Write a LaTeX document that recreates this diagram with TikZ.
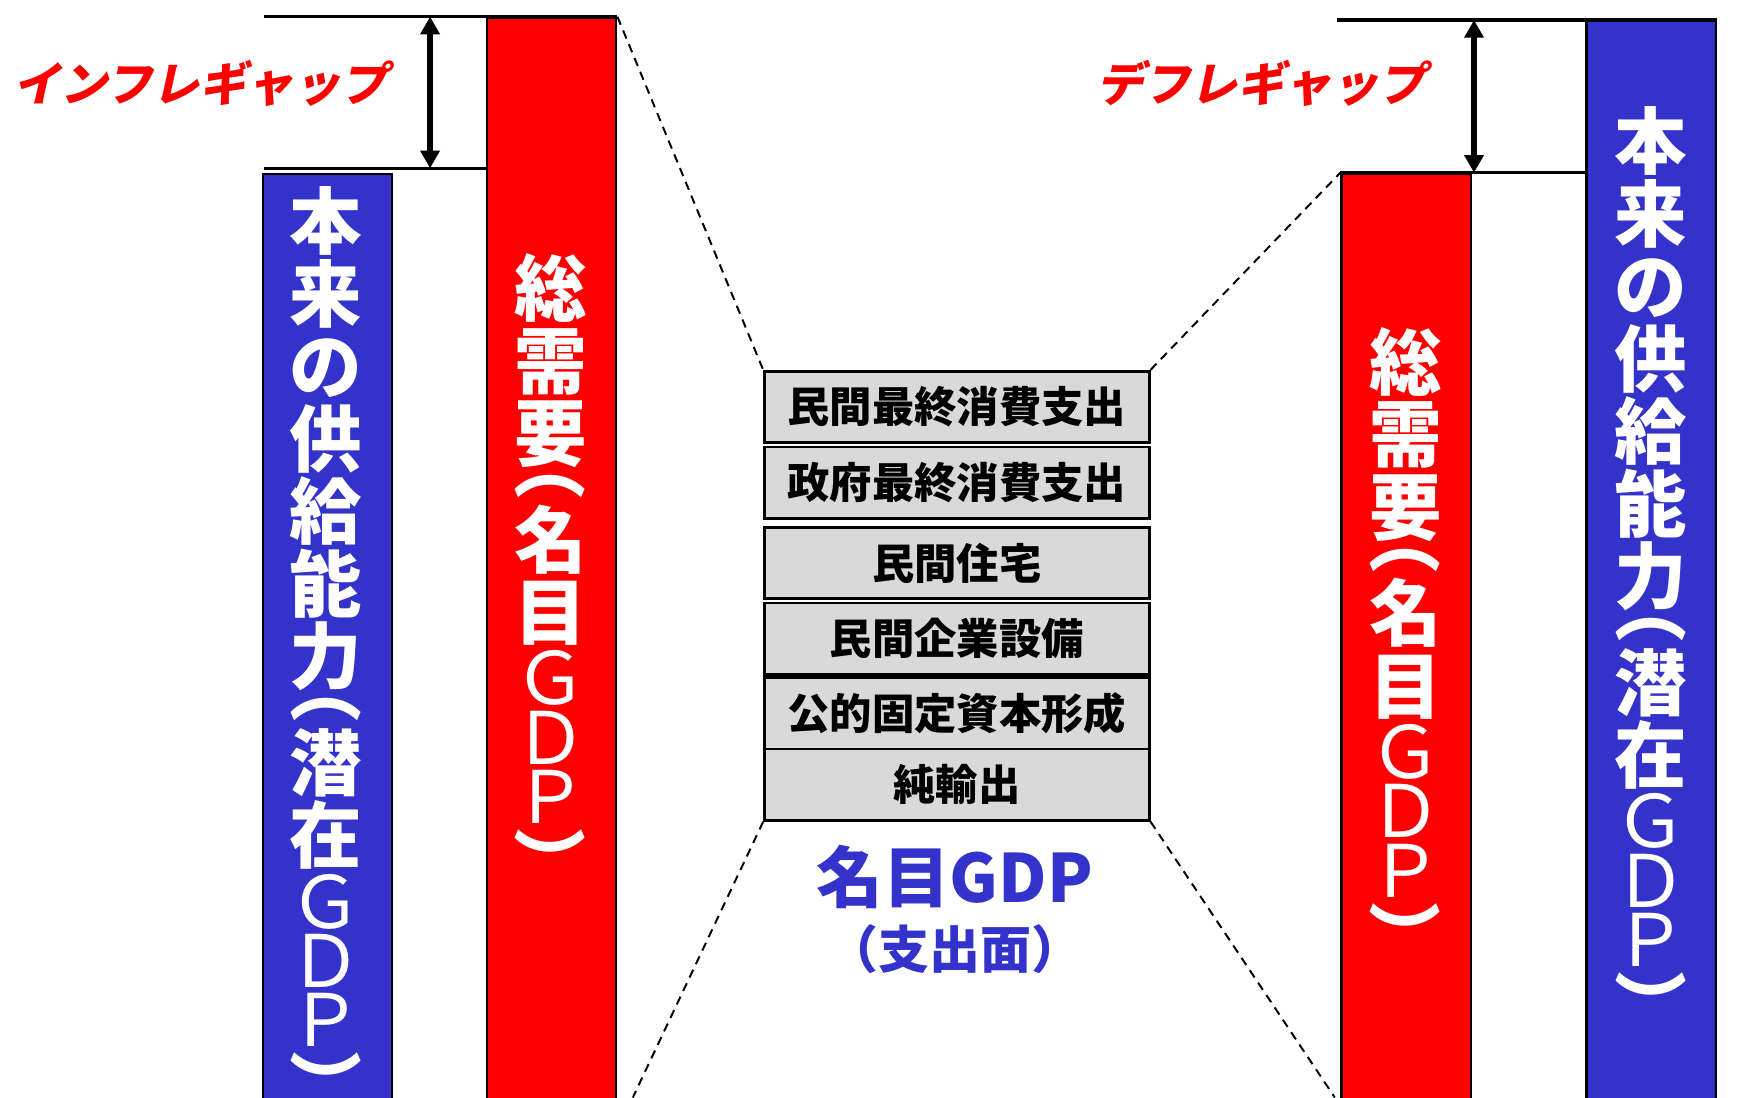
\documentclass[tikz,border=0pt]{standalone}
\usepackage{graphicx}
\usepackage{fontspec}
\setmainfont{Noto Sans CJK JP}
\newfontfamily\slantjp{Noto Sans CJK JP}[FakeSlant=0.22]
\usetikzlibrary{arrows.meta}

\definecolor{supblue}{HTML}{3333CC}
\definecolor{demred}{HTML}{FF0000}
\definecolor{boxgray}{HTML}{D9D9D9}

% vertical brackets and letters for the bar labels
\newcommand{\vopen}{\raisebox{0.96em}[0.3em][0pt]{\rotatebox{-90}{（}}}
\newcommand{\vclose}{\raisebox{0.45em}[0.3em][0pt]{\rotatebox{-90}{）}}}
\newcommand{\vgdp}{{\mdseries Ｇ}\\[-0.18em]{\mdseries Ｄ}\\[-0.18em]{\mdseries Ｐ}}

\tikzset{
  bar/.style={draw=black, line width=0.6pt, minimum width=1.16cm, anchor=north west, inner sep=0pt},
  supbar/.style={bar, fill=supblue},
  dembar/.style={bar, fill=demred},
  bartext/.style={anchor=north, inner sep=0pt, align=center, text=white,
    font=\bfseries\fontsize{18.5}{18.5}\selectfont},
  gdpbox/.style={draw=black, line width=0.7pt, fill=boxgray, anchor=north west,
    minimum width=3.45cm, minimum height=0.64cm, inner sep=0pt,
    font=\bfseries\fontsize{10.8}{12}\selectfont},
  gapline/.style={line width=0.8pt},
  gaparrow/.style={line width=1.6pt, {Triangle[length=4.5pt,width=4.8pt]}-{Triangle[length=4.5pt,width=4.8pt]}},
  gaplabel/.style={text=demred, inner sep=0pt, font=\slantjp\bfseries\fontsize{12}{14}\selectfont},
  zoomline/.style={line width=0.5pt, dash pattern=on 2.2pt off 1.6pt}
}

\begin{document}
\begin{tikzpicture}[x=0.01cm, y=-0.01cm]
\useasboundingbox (0,0) rectangle (1568,985);

% Inflationary gap (left)
\node[supbar, minimum height=8.30cm] (lsup) at (235,155) {};
\node[dembar, minimum height=9.70cm] (ldem) at (436,15) {};
\coordinate (ltop) at (237,15);
\coordinate (lmid) at (237,151);
\draw[gapline] (ltop) -- (ldem.north east);
\draw[gapline] (lmid) -- (ldem.west |- lmid);
\coordinate (la1) at (386,15);
\coordinate (la2) at (386,151);
\draw[gaparrow] (la1) -- (la2);
\node[gaplabel] (infl) at (180,75) {インフレギャップ};
\node[bartext] (lsuptext) at (292.5,167)
  {本\\来\\の\\供\\給\\能\\力\\[-0.48em]\vopen\\[-0.05em]潜\\在\\[-0.1em]\vgdp\\[-0.51em]\vclose};
\node[bartext] (ldemtext) at (494,227)
  {総\\需\\要\\[-0.48em]\vopen\\[-0.05em]名\\目\\[-0.1em]\vgdp\\[-0.51em]\vclose};

% Nominal GDP, expenditure side
\node[gdpbox] (pc) at (685,332) {民間最終消費支出};
\node[gdpbox] (gc) at (685,400) {政府最終消費支出};
\node[gdpbox] (ph) at (685,472) {民間住宅};
\node[gdpbox] (pi) at (685,540) {民間企業設備};
\node[gdpbox] (gi) at (685,607) {公的固定資本形成};
\node[gdpbox] (nx) at (685,671) {純輸出};
\node[text=supblue, font=\bfseries\fontsize{17}{20}\selectfont] (ngdp) at (857,787) {名目GDP};
\node[text=supblue, font=\bfseries\fontsize{13}{16}\selectfont] (side) at (857,852) {（支出面）};

% Deflationary gap (right)
\node[dembar, minimum height=8.30cm] (rdem) at (1203,155) {};
\node[supbar, minimum height=9.67cm] (rsup) at (1423,18) {};
\coordinate (rtop) at (1200,18);
\coordinate (rmid) at (1203,155);
\draw[gapline] (rtop) -- (rsup.north east);
\draw[gapline] (rmid) -- (rsup.west |- rmid);
\coordinate (ra1) at (1323,18);
\coordinate (ra2) at (1323,155);
\draw[gaparrow] (ra1) -- (ra2);
\node[gaplabel] (defl) at (1132,75) {デフレギャップ};
\node[bartext] (rdemtext) at (1261.5,293)
  {総\\需\\要\\[-0.48em]\vopen\\[-0.05em]名\\目\\[-0.1em]\vgdp\\[-0.51em]\vclose};
\node[bartext] (rsuptext) at (1482,95)
  {本\\来\\の\\供\\給\\能\\力\\[-0.48em]\vopen\\[-0.05em]潜\\在\\[-0.1em]\vgdp\\[-0.51em]\vclose};

% Zoom lines
\coordinate (lbot) at (568,985);
\coordinate (rbot) at (1198,985);
\draw[zoomline] (ldem.north east) -- (pc.north west);
\draw[zoomline] (nx.south west) -- (lbot);
\draw[zoomline] (pc.north east) -- (rdem.north west);
\draw[zoomline] (nx.south east) -- (rbot);
\end{tikzpicture}
\end{document}
